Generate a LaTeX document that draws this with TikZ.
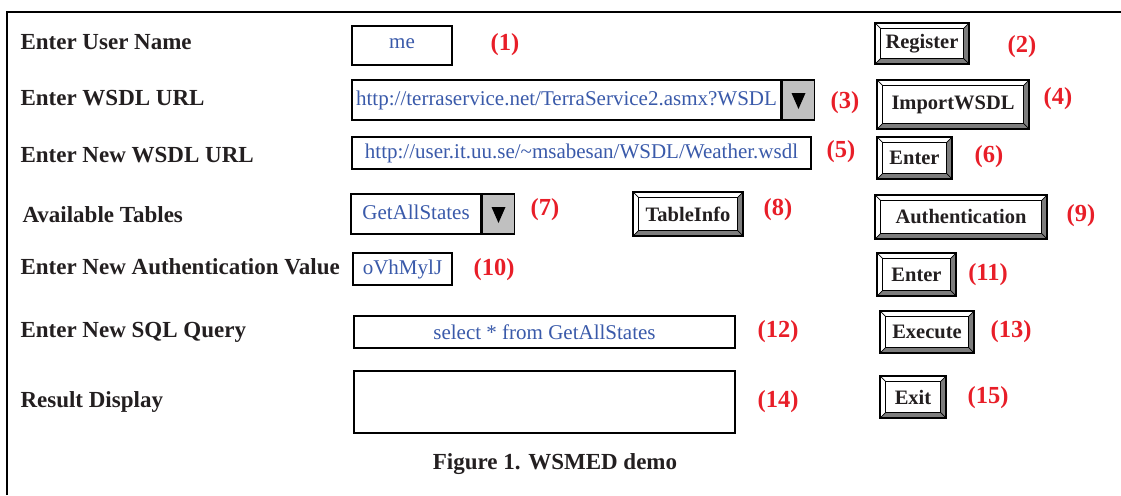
\documentclass[tikz,border=0pt]{standalone}
\usepackage{fontspec}
\setmainfont{Liberation Serif}
\usetikzlibrary{positioning}
\definecolor{ink}{RGB}{35,31,32}
\definecolor{fieldblue}{RGB}{58,90,170}
\definecolor{numred}{RGB}{232,30,40}
\definecolor{bevelgray}{RGB}{125,125,125}
\definecolor{dropgray}{RGB}{192,192,192}
\newcommand\bevel[1]{%
  \fill[bevelgray] (#1.north east) -- ([shift={(-6,6)}]#1.north east) -- ([shift={(-6,-6)}]#1.south east) -- ([shift={(6,-6)}]#1.south west) -- (#1.south west) -- (#1.south east) -- cycle;
  \draw[line width=1pt] ([shift={(6,6)}]#1.north west) rectangle ([shift={(-6,-6)}]#1.south east);
  \draw[line width=0.7pt] (#1.north west) -- ++(6,6) (#1.north east) -- ++(-6,6) (#1.south west) -- ++(6,-6) (#1.south east) -- ++(-6,-6);
  \draw[line width=1.8pt] (#1.north west) rectangle (#1.south east);}
\newcommand\droptri[1]{\fill[black] ([shift={(-7,-7)}]#1.center) -- ([shift={(7,-7)}]#1.center) -- ([shift={(0,9)}]#1.center) -- cycle;}

\begin{document}
\begin{tikzpicture}[x=1pt,y=-1pt]
    \tikzset{
        lbl/.style={anchor=west, text=ink, font=\bfseries\fontsize{23}{26}\selectfont},
        field/.style={draw, line width=1.5pt, fill=white, inner sep=0pt, text=fieldblue, font=\fontsize{21}{24}\selectfont},
        drop/.style={draw, line width=1.5pt, fill=dropgray, inner sep=0pt, minimum width=32pt, right=0pt of #1},
        num/.style={text=numred, font=\bfseries\fontsize{24.5}{26}\selectfont},
        btn/.style={fill=white, inner sep=0pt, text=ink, font=\bfseries\fontsize{20.5}{24}\selectfont},}
    \useasboundingbox (0,0) rectangle (1121,495);
    \draw[line width=2pt] (7,495) -- (7,12) -- (1121,12);
    \node[lbl] (lname) at (17,42) {Enter User Name};
    \node[lbl] (lwsdl) at (17,98) {Enter WSDL URL};
    \node[lbl] (lnew) at (17,155) {Enter New WSDL URL};
    \node[lbl] (ltab) at (19,215) {Available Tables};
    \node[lbl] (lauth) at (17,267) {Enter New Authentication Value};
    \node[lbl] (lsql) at (17,332) {Enter New SQL Query};
    \node[lbl] (lres) at (17,402) {Result Display};
    \node[field, minimum width=100pt, minimum height=39pt] (user) at (402,45.5) {\raisebox{3pt}{me}};
    \node[field, minimum width=429pt, minimum height=40pt] (wsdl) at (566.5,100) {http://terraservice.net/TerraService2.asmx?WSDL};
    \node[drop=wsdl, minimum height=40pt] (wsdldrop) {};
    \droptri{wsdldrop}
    \node[field, minimum width=459pt, minimum height=32pt] (newwsdl) at (581.5,153) {http://user.it.uu.se/\textasciitilde msabesan/WSDL/Weather.wsdl};
    \node[field, minimum width=130pt, minimum height=40pt] (tables) at (416,214) {\raisebox{3pt}{GetAllStates}};
    \node[drop=tables, minimum height=40pt] (tabdrop) {};
    \droptri{tabdrop}
    \node[field, minimum width=99pt, minimum height=32pt] (auth) at (402.5,269) {oVhMylJ};
    \node[field, minimum width=381pt, minimum height=32pt] (sql) at (544.5,332) {select * from GetAllStates};
    \node[field, minimum width=381pt, minimum height=62pt] (result) at (544.5,402) {};
    \node[btn, minimum width=94pt, minimum height=41pt] (register) at (922,43.5) {Register};
    \node[btn, minimum width=152pt, minimum height=49pt] (import) at (953,104.5) {ImportWSDL};
    \node[btn, minimum width=75pt, minimum height=42pt] (enterwsdl) at (914.5,158) {Enter};
    \node[btn, minimum width=110pt, minimum height=44pt] (tinfo) at (688,214) {TableInfo};
    \node[btn, minimum width=172pt, minimum height=44pt] (authbtn) at (961,217) {Authentication};
    \node[btn, minimum width=79pt, minimum height=43pt] (enterauth) at (916.5,274.5) {Enter};
    \node[btn, minimum width=94pt, minimum height=42pt] (execute) at (927,332) {Execute};
    \node[btn, minimum width=66pt, minimum height=42pt] (exit) at (913,397) {Exit};
    \foreach \b in {register,import,enterwsdl,tinfo,authbtn,enterauth,execute,exit}
        {\bevel{\b}}
    \node[num] (n1) at (505,45) {(1)};
    \node[num] (n2) at (1022,47) {(2)};
    \node[num] (n3) at (845,103) {(3)};
    \node[num] (n4) at (1058,99) {(4)};
    \node[num] (n5) at (841,152) {(5)};
    \node[num] (n6) at (989,157) {(6)};
    \node[num] (n7) at (545,210) {(7)};
    \node[num] (n8) at (778,210) {(8)};
    \node[num] (n9) at (1081,216) {(9)};
    \node[num] (n10) at (494,270) {(10)};
    \node[num] (n11) at (988,275) {(11)};
    \node[num] (n12) at (778,332) {(12)};
    \node[num] (n13) at (1011,332) {(13)};
    \node[num] (n14) at (778,402) {(14)};
    \node[num] (n15) at (988,398) {(15)};
    \node[text=ink, font=\bfseries\fontsize{23}{26}\selectfont] (caption) at (555,464) {Figure 1. WSMED demo};
\end{tikzpicture}
\end{document}
